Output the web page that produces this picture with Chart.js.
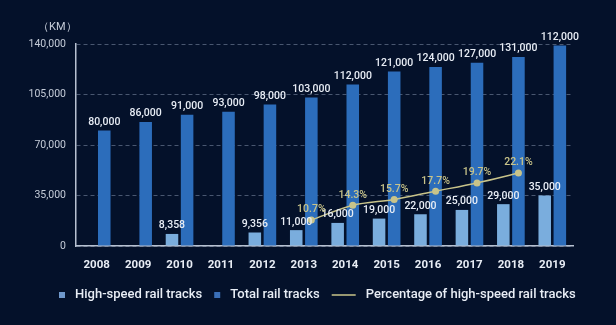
<!DOCTYPE html>
<html><head><meta charset="utf-8">
<script src="https://cdn.jsdelivr.net/npm/chart.js@4"></script>
<style>html,body{margin:0;padding:0;background:#04112a;overflow:hidden}</style>
</head><body>
<canvas id="c" width="616" height="325"></canvas>
<script>
const years = ['2008','2009','2010','2011','2012','2013','2014','2015','2016','2017','2018','2019'];
const highSpeed = [null,null,8358,null,9356,11000,16000,19000,22000,25000,29000,35000];
const total = [80000,86000,91000,93000,98000,103000,112000,121000,124000,127000,131000,139000];
const totalLabels = ['80,000','86,000','91,000','93,000','98,000','103,000','112,000','121,000','124,000','127,000','131,000','112,000'];
const pct = [null,null,null,null,null,10.7,14.3,15.7,17.7,19.7,22.1,null];
const seriesNames = ['High-speed rail tracks','Total rail tracks','Percentage of high-speed rail tracks'];
const unitLabel = '（KM）';

const FONT = 'Roboto, "DejaVu Sans", sans-serif';
const C_HS = '#7aaddd', C_TOT = '#2c6dbb', C_PCT = '#c9c48a', C_TXT = '#e8edf5';

const bgPlugin = {
  id:'bg',
  beforeDraw(chart){const c=chart.ctx;c.save();c.fillStyle='#04112a';c.fillRect(0,0,chart.width,chart.height);c.restore();}
};
const shiftPlugin = {
  id:'shift',
  afterDatasetsUpdate(chart){
    const bars = chart.getDatasetMeta(1).data, pts = chart.getDatasetMeta(2).data;
    pts.forEach((p,i)=>{ if(bars[i]) p.x = bars[i].x; });
  }
};
const labelPlugin = {
  id:'labels',
  afterDatasetsDraw(chart){
    const c = chart.ctx; c.save();
    c.textAlign='center'; c.textBaseline='bottom';
    c.font = '500 10.5px '+FONT; c.fillStyle = C_TXT;
    chart.getDatasetMeta(0).data.forEach((b,i)=>{ if(highSpeed[i]!=null) c.fillText(highSpeed[i].toLocaleString('en-US'), b.x, b.y-3); });
    chart.getDatasetMeta(1).data.forEach((b,i)=>{ c.fillText(totalLabels[i], b.x, b.y-3); });
    c.fillStyle = C_PCT;
    chart.getDatasetMeta(2).data.forEach((p,i)=>{ if(pct[i]!=null) c.fillText(pct[i].toFixed(1)+'%', p.x, p.y-5); });
    c.font = '11px '+FONT; c.fillStyle='#c5ccd8'; c.textAlign='left'; c.textBaseline='middle';
    c.fillText(unitLabel, 38, chart.chartArea.top-17);
    // legend
    const ds = chart.data.datasets;
    c.font = '500 13px '+FONT; c.fillStyle = C_TXT; c.textBaseline='middle';
    const ly = 295;
    const widths = ds.map(d=>c.measureText(d.label).width);
    const markerW = ds.map(d=>d.type==='line'?24:6);
    const gapM = 10, gapItem = 12;
    let totalW = 0;
    ds.forEach((d,i)=>{ totalW += markerW[i] + gapM + widths[i]; if(i<ds.length-1) totalW += gapItem; });
    let x = (chart.chartArea.left + chart.chartArea.right)/2 - totalW/2 + 0;
    x = 59;
    ds.forEach((d,i)=>{
      if(d.type==='line'){
        c.strokeStyle = C_PCT; c.lineWidth=1.5; c.beginPath(); c.moveTo(x,ly); c.lineTo(x+markerW[i],ly); c.stroke();
      } else {
        c.fillStyle = i===0 ? '#6f98cc' : '#3a6fb8'; c.fillRect(x, ly-3, 6, 6);
      }
      x += markerW[i] + gapM;
      c.fillStyle = C_TXT; c.fillText(d.label, x, ly);
      x += widths[i] + gapItem;
    });
    c.restore();
  }
};

new Chart(document.getElementById('c'), {
  data:{
    labels: years,
    datasets:[
      {type:'bar', label:seriesNames[0], data:highSpeed, backgroundColor:C_HS, categoryPercentage:0.73, barPercentage:0.83, yAxisID:'y'},
      {type:'bar', label:seriesNames[1], data:total, backgroundColor:C_TOT, categoryPercentage:0.73, barPercentage:0.83, yAxisID:'y'},
      {type:'line', label:seriesNames[2], data:pct, borderColor:C_PCT, backgroundColor:C_PCT, borderWidth:1.5, pointRadius:3.5, pointBackgroundColor:C_PCT, pointBorderWidth:0, tension:0.3, yAxisID:'y2', order:-1}
    ]
  },
  options:{
    responsive:false, animation:false, devicePixelRatio:1,
    layout:{padding:{top:44,left:0,right:43,bottom:57}},
    plugins:{ tooltip:{enabled:false}, legend:{display:false} },
    scales:{
      x:{
        grid:{display:false}, border:{display:true,color:'#b7c1d1',width:1.5},
        ticks:{color:C_TXT, font:{family:FONT,size:11.5,weight:'bold'}, padding:4},
        afterFit(s){ s.height = 22; }
      },
      y:{
        min:0, max:140000,
        ticks:{stepSize:35000, color:'#c5ccd8', font:{family:FONT,size:10.5}, padding:10, callback:v=>v.toLocaleString('en-US')},
        grid:{color:'rgba(120,135,160,0.6)', drawTicks:false, lineWidth:1},
        border:{display:true,color:'#b7c1d1',width:1.5,dash:[4,3]},
        afterFit(s){ s.width = 76; }
      },
      y2:{display:false, min:4.4, max:53.4}
    }
  },
  plugins:[bgPlugin, shiftPlugin, labelPlugin]
});
</script>
</body></html>
